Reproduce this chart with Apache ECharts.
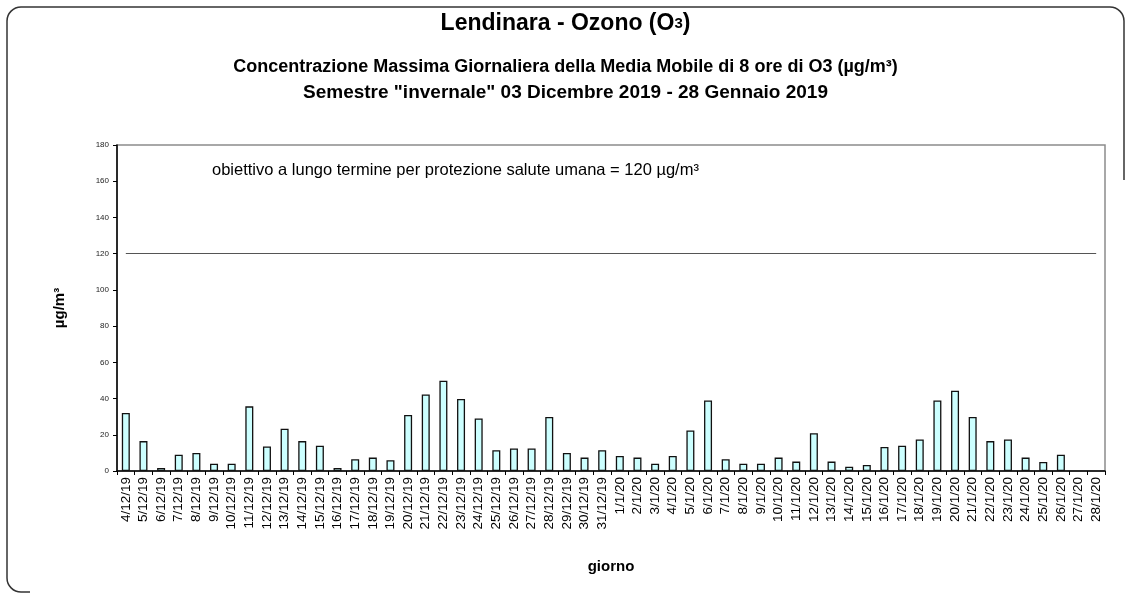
<!DOCTYPE html>
<html>
<head>
<meta charset="utf-8">
<script src="https://cdn.jsdelivr.net/npm/echarts@6/dist/echarts.min.js"></script>
<style>
  html, body { margin: 0; padding: 0; background: #fff; }
  #chart { width: 1131px; height: 599px; }
</style>
</head>
<body>
<div id="chart"></div>
<script>
// giorni: dicembre 2019 e gennaio 2020
var giorni = [
  '4/12/19','5/12/19','6/12/19','7/12/19','8/12/19','9/12/19','10/12/19','11/12/19',
  '12/12/19','13/12/19','14/12/19','15/12/19','16/12/19','17/12/19','18/12/19','19/12/19',
  '20/12/19','21/12/19','22/12/19','23/12/19','24/12/19','25/12/19','26/12/19','27/12/19',
  '28/12/19','29/12/19','30/12/19','31/12/19',
  '1/1/20','2/1/20','3/1/20','4/1/20','5/1/20','6/1/20','7/1/20','8/1/20','9/1/20','10/1/20',
  '11/1/20','12/1/20','13/1/20','14/1/20','15/1/20','16/1/20','17/1/20','18/1/20','19/1/20',
  '20/1/20','21/1/20','22/1/20','23/1/20','24/1/20','25/1/20','26/1/20','27/1/20','28/1/20'
];

// max giornaliera media mobile 8 ore O3 (µg/m³)
var ozono = [
  32, 16.5, 1.7, 9, 10, 4, 4, 35.7,
  13.5, 23.3, 16.5, 14, 1.7, 6.5, 7.4, 5.9,
  30.9, 42.2, 49.8, 39.8, 29, 11.5, 12.4, 12.4,
  29.8, 10, 7.4, 11.5,
  8.3, 7.4, 4, 8.3, 22.4, 38.9, 6.5, 4, 4, 7.4,
  5.2, 20.9, 5.2, 2.4, 3.3, 13.3, 14, 17.4, 38.9,
  44.3, 29.8, 16.5, 17.4, 7.4, 5, 9, null, null
];

var obiettivo = 120;
var yTicks = [0, 180, 20]; // min, max, passo

var myChart = echarts.init(document.getElementById('chart'));
var font = '"Liberation Sans", Arial, sans-serif';
var bordo = { stroke: '#333', lineWidth: 1.5, fill: 'none' };

var option = {
  backgroundColor: '#fff',
  animation: false,
  textStyle: { fontFamily: font },
  title: [
    {
      text: 'Lendinara - Ozono (O{s|3})',
      left: 'center',
      top: 7,
      textStyle: {
        fontFamily: font, fontSize: 23, fontWeight: 'bold', color: '#000',
        rich: { s: { fontFamily: font, fontSize: 15, fontWeight: 'bold', color: '#000' } }
      }
    },
    {
      text: 'Concentrazione Massima Giornaliera della Media Mobile di 8 ore di O3 (µg/m³)',
      left: 'center',
      top: 53,
      textStyle: { fontFamily: font, fontSize: 18, fontWeight: 'bold', color: '#000' }
    },
    {
      text: 'Semestre "invernale" 03 Dicembre 2019 - 28 Gennaio 2019',
      left: 'center',
      top: 78,
      textStyle: { fontFamily: font, fontSize: 19, fontWeight: 'bold', color: '#000' }
    }
  ],
  grid: {
    left: 117, right: 26, top: 145, bottom: 128,
    show: true, borderColor: '#8c8c8c', borderWidth: 1.5
  },
  xAxis: {
    type: 'category',
    data: giorni,
    boundaryGap: true,
    name: 'giorno',
    nameLocation: 'middle',
    nameGap: 88,
    nameTextStyle: { fontFamily: font, fontSize: 15, fontWeight: 'bold', color: '#000' },
    axisLine: { lineStyle: { color: '#000', width: 1.5 } },
    axisTick: { show: true, inside: false, length: 4, lineStyle: { color: '#000' } },
    axisLabel: { interval: 0, rotate: 90, fontSize: 13.5, color: '#000', margin: 6 },
    splitLine: { show: false }
  },
  yAxis: {
    type: 'value',
    min: yTicks[0],
    max: yTicks[1],
    interval: yTicks[2],
    name: 'µg/m³',
    nameLocation: 'middle',
    nameGap: 50,
    nameTextStyle: { fontFamily: font, fontSize: 15, fontWeight: 'bold', color: '#000' },
    axisLine: { show: true, lineStyle: { color: '#000', width: 1.5 } },
    axisTick: { show: true, length: 4, lineStyle: { color: '#000' } },
    axisLabel: { fontSize: 8, color: '#222', margin: 8 },
    splitLine: { show: false }
  },
  graphic: [
    {
      type: 'text',
      left: 212,
      top: 162,
      style: {
        text: 'obiettivo a lungo termine per protezione salute umana = 120 µg/m³',
        fontFamily: font, fontSize: 16.5, fill: '#000'
      }
    },
    // cornice arrotondata
    { type: 'line', shape: { x1: 21, y1: 7, x2: 1110, y2: 7 }, style: bordo },
    { type: 'line', shape: { x1: 7, y1: 21, x2: 7, y2: 578 }, style: bordo },
    { type: 'line', shape: { x1: 1124, y1: 21, x2: 1124, y2: 180 }, style: bordo },
    { type: 'line', shape: { x1: 21, y1: 592, x2: 30, y2: 592 }, style: bordo },
    { type: 'arc', shape: { cx: 21, cy: 21, r: 14, startAngle: Math.PI, endAngle: Math.PI * 1.5 }, style: bordo },
    { type: 'arc', shape: { cx: 1110, cy: 21, r: 14, startAngle: -Math.PI / 2, endAngle: 0 }, style: bordo },
    { type: 'arc', shape: { cx: 21, cy: 578, r: 14, startAngle: Math.PI / 2, endAngle: Math.PI }, style: bordo }
  ],
  series: [
    {
      name: 'O3',
      type: 'bar',
      data: ozono,
      barWidth: 8,
      itemStyle: { color: '#ccffff', borderColor: '#111', borderWidth: 1.3 },
      markLine: {
        silent: true,
        symbol: 'none',
        label: { show: false },
        lineStyle: { color: '#555', width: 1, type: 'solid' },
        data: [[
          { xAxis: giorni[0], yAxis: obiettivo },
          { xAxis: giorni[giorni.length - 1], yAxis: obiettivo }
        ]]
      }
    }
  ]
};

myChart.setOption(option);
</script>
</body>
</html>
